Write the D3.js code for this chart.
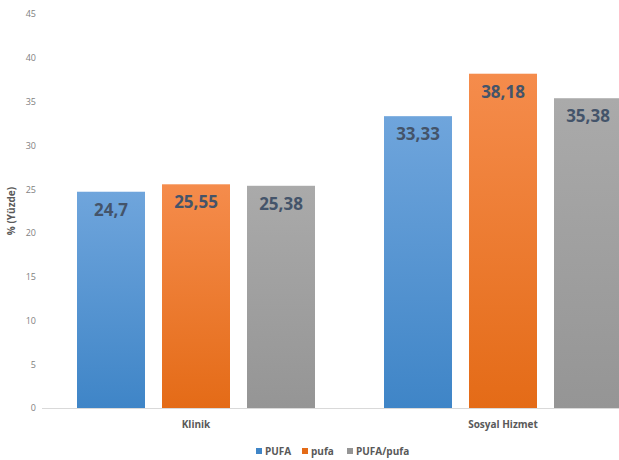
<!DOCTYPE html>
<html lang="tr">
<head>
	<meta charset="utf-8">
	<title>PUFA / pufa</title>
	<script src="https://d3js.org/d3.v7.min.js"></script>
	<style type="text/css">
		body { margin: 0; background: #fff; }
		text { font-family: "Open Sans", "Liberation Sans", sans-serif; }
	</style>
</head>
<body>
	<script type="text/javascript">

		// data
		let categories = ["Klinik", "Sosyal Hizmet"];
		let seriesNames = ["PUFA", "pufa", "PUFA/pufa"];
		let valuesPUFA = [24.7, 33.33];
		let valuesPufa = [25.55, 38.18];
		let valuesRatio = [25.38, 35.38];
		let labelsPUFA = ["24,7", "33,33"];
		let labelsPufa = ["25,55", "38,18"];
		let labelsRatio = ["25,38", "35,38"];
		let yTicks = [0, 5, 10, 15, 20, 25, 30, 35, 40, 45];

		let w = 619;
		let h = 460;

		// colours: top / bottom of gradient
		let colors = [
			["#6fa5dc", "#3f85c7"],
			["#f58c4c", "#e46b17"],
			["#aaaaaa", "#959595"]
		];

		let allValues = [valuesPUFA, valuesPufa, valuesRatio];
		let allLabels = [labelsPUFA, labelsPufa, labelsRatio];

		let table = [];
		categories.forEach(function (c, ci) {
			seriesNames.forEach(function (s, si) {
				table.push({ cat: c, series: s, si: si, value: allValues[si][ci], label: allLabels[si][ci] });
			});
		});

		let svg = d3.select("body")
			.append("svg")
			.attr("width", w)
			.attr("height", h);

		let defs = svg.append("defs");
		colors.forEach(function (c, i) {
			let g = defs.append("linearGradient")
				.attr("id", "grad" + i)
				.attr("x1", 0).attr("y1", 0).attr("x2", 0).attr("y2", 1);
			g.append("stop").attr("offset", "0%").attr("stop-color", c[0]);
			g.append("stop").attr("offset", "100%").attr("stop-color", c[1]);
		});

		let xScale = d3.scaleBand()
			.domain(categories)
			.range([42.5, 656.5]);

		let xInner = d3.scaleBand()
			.domain(seriesNames)
			.range([34.5, xScale.bandwidth() - 34.5])
			.paddingInner(0.2);

		let yScale = d3.scaleLinear()
			.domain([0, 45])
			.range([408, 14]);

		// y axis labels
		let yAxis = d3.axisLeft(yScale)
			.tickValues(yTicks)
			.tickSize(0)
			.tickPadding(6);

		let yg = svg.append("g")
			.attr("transform", "translate(42,0)")
			.call(yAxis);
		yg.select(".domain").remove();
		yg.selectAll("text")
			.attr("font-size", "9px")
			.attr("fill", "#7f7f7f")
			.style("font-family", "'Open Sans', sans-serif");

		// bars
		svg.selectAll("rect.bar")
			.data(table)
			.enter()
			.append("rect")
			.attr("class", "bar")
			.attr("x", function (d) { return xScale(d.cat) + xInner(d.series); })
			.attr("y", function (d) { return yScale(d.value); })
			.attr("width", xInner.bandwidth())
			.attr("height", function (d) { return yScale(0) - yScale(d.value); })
			.attr("fill", function (d) { return "url(#grad" + d.si + ")"; });

		// value labels
		svg.selectAll("text.val")
			.data(table)
			.enter()
			.append("text")
			.attr("class", "val")
			.text(function (d) { return d.label; })
			.attr("text-anchor", "middle")
			.attr("x", function (d) { return xScale(d.cat) + xInner(d.series) + xInner.bandwidth() / 2; })
			.attr("y", function (d) { return yScale(d.value) + 24; })
			.attr("font-size", "17px")
			.attr("font-weight", "bold")
			.attr("fill", "#44546a");

		// x axis
		let xAxis = d3.axisBottom(xScale)
			.tickSize(0)
			.tickPadding(13);

		let xg = svg.append("g")
			.attr("transform", "translate(0," + yScale(0) + ")")
			.call(xAxis);
		xg.select(".domain")
			.attr("stroke", "#d9d9d9")
			.attr("d", "M42,0.5H660");
		xg.selectAll("text")
			.attr("font-size", "10px")
			.attr("font-weight", "bold")
			.attr("fill", "#595959")
			.style("font-family", "'Open Sans', sans-serif");

		// y title
		svg.append("text")
			.text("% (Yüzde)")
			.attr("transform", "translate(15," + yScale(22.5) + ") rotate(-90)")
			.attr("text-anchor", "middle")
			.attr("font-size", "10px")
			.attr("font-weight", "bold")
			.attr("fill", "#595959");

		// legend
		let legendX = [256, 302, 347];
		let legend = svg.selectAll("g.legend")
			.data(seriesNames)
			.enter()
			.append("g")
			.attr("class", "legend")
			.attr("transform", function (d, i) { return "translate(" + legendX[i] + ",447)"; });

		legend.append("rect")
			.attr("width", 6)
			.attr("height", 6)
			.attr("y", 1)
			.attr("fill", function (d, i) { return colors[i][1]; });

		legend.append("text")
			.text(function (d) { return d; })
			.attr("x", 9)
			.attr("y", 7.5)
			.attr("font-size", "10px")
			.attr("font-weight", "bold")
			.attr("fill", "#595959");

	</script>
</body>
</html>
